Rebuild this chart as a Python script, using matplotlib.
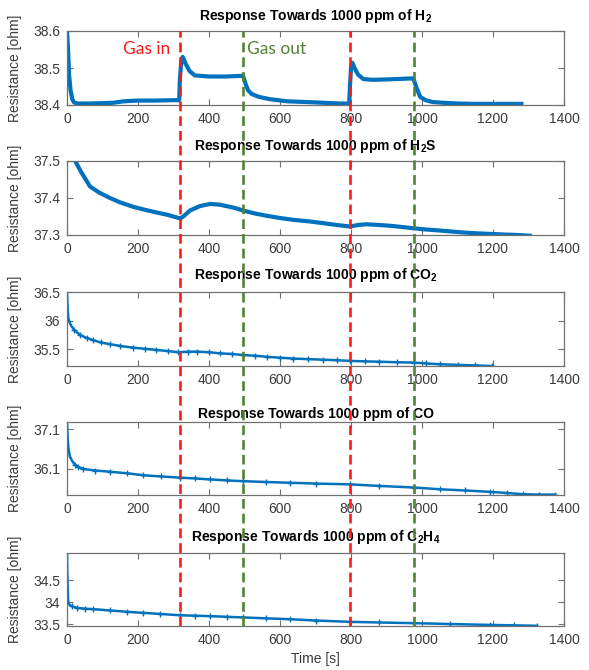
import numpy as np
import matplotlib
import matplotlib.pyplot as plt

matplotlib.rcParams['font.family'] = ['Liberation Sans', 'DejaVu Sans']
matplotlib.rcParams['mathtext.fontset'] = 'custom'
matplotlib.rcParams['mathtext.rm'] = 'Liberation Sans'
matplotlib.rcParams['mathtext.bf'] = 'Liberation Sans:bold'
matplotlib.rcParams['lines.scale_dashes'] = False

# ---- data ----
h2_t = [0, 3, 6, 10, 15, 20, 30, 60, 100, 130, 160, 200, 250, 300, 316, 318, 322,
        326, 335, 345, 360, 400, 450, 495, 497, 502, 510, 520, 540, 570, 620, 700,
        769, 795, 797, 800, 804, 810, 820, 835, 860, 900, 950, 975, 977, 985, 995,
        1010, 1030, 1060, 1100, 1150, 1200, 1280]
h2_r = [38.60, 38.55, 38.48, 38.44, 38.415, 38.407, 38.404, 38.404, 38.405, 38.406,
        38.41, 38.412, 38.412, 38.413, 38.413, 38.47, 38.52, 38.53, 38.51, 38.492,
        38.480, 38.477, 38.477, 38.479, 38.476, 38.46, 38.44, 38.43, 38.422, 38.416,
        38.41, 38.407, 38.404, 38.404, 38.45, 38.50, 38.514, 38.50, 38.482, 38.470,
        38.468, 38.469, 38.471, 38.472, 38.468, 38.445, 38.422, 38.413, 38.408,
        38.406, 38.404, 38.403, 38.403, 38.403]

h2s_t = [23, 40, 65, 90, 121, 150, 187, 220, 252, 285, 314, 320, 330, 346, 374, 403,
         430, 469, 497, 530, 562, 600, 637, 680, 722, 760, 797, 820, 844, 880, 910,
         950, 977, 1010, 1051, 1100, 1144, 1190, 1239, 1270, 1304]
h2s_r = [37.50, 37.47, 37.431, 37.415, 37.40, 37.388, 37.376, 37.368, 37.361, 37.354,
         37.346, 37.345, 37.352, 37.366, 37.378, 37.384, 37.382, 37.374, 37.366,
         37.358, 37.352, 37.346, 37.341, 37.337, 37.332, 37.327, 37.323, 37.327,
         37.329, 37.327, 37.325, 37.321, 37.318, 37.315, 37.312, 37.308, 37.305,
         37.303, 37.301, 37.300, 37.298]

co2_t = [0, 2, 4, 8, 13, 20, 37, 55, 74, 95, 121, 150, 187, 220, 252, 285, 314, 340,
         366, 400, 432, 465, 497, 530, 562, 600, 637, 680, 720, 760, 797, 840, 880,
         930, 977, 1010, 1051, 1100, 1150, 1196]
co2_r = [36.5, 36.2, 36.04, 35.96, 35.90, 35.84, 35.75, 35.70, 35.66, 35.62, 35.59,
         35.56, 35.53, 35.51, 35.49, 35.47, 35.45, 35.46, 35.46, 35.45, 35.43, 35.42,
         35.40, 35.39, 35.37, 35.355, 35.34, 35.33, 35.32, 35.31, 35.30, 35.29,
         35.285, 35.275, 35.27, 35.255, 35.24, 35.23, 35.22, 35.21]

co_t = [0, 2, 4, 8, 14, 22, 32, 46, 80, 121, 170, 215, 265, 318, 360, 403, 450, 497,
        560, 628, 700, 797, 880, 977, 1051, 1120, 1191, 1240, 1285, 1330, 1375]
co_r = [37.28, 36.85, 36.62, 36.41, 36.3, 36.2, 36.14, 36.09, 36.05, 36.02, 35.98,
        35.93, 35.9, 35.87, 35.85, 35.825, 35.80, 35.78, 35.76, 35.74, 35.72, 35.70,
        35.66, 35.62, 35.575, 35.545, 35.51, 35.48, 35.45, 35.44, 35.44]

c2h4_t = [0, 1, 3, 5, 8, 15, 27, 50, 74, 120, 168, 215, 262, 318, 360, 403, 450, 497,
          560, 628, 700, 797, 880, 977, 1080, 1191, 1260, 1323]
c2h4_r = [35.12, 34.6, 34.05, 33.97, 33.93, 33.9, 33.87, 33.85, 33.84, 33.81, 33.78,
          33.755, 33.73, 33.70, 33.69, 33.68, 33.665, 33.65, 33.63, 33.61, 33.58,
          33.55, 33.535, 33.52, 33.5, 33.48, 33.47, 33.46]

gas_in = [318, 797]
gas_out = [497, 977]

titles = [r'Response Towards 1000 ppm of $\mathbf{H_2}$',
          r'Response Towards 1000 ppm of $\mathbf{H_2S}$',
          r'Response Towards 1000 ppm of $\mathbf{CO_2}$',
          'Response Towards 1000 ppm of CO',
          r'Response Towards 1000 ppm of $\mathbf{C_2H_4}$']
series = [(h2_t, h2_r), (h2s_t, h2s_r), (co2_t, co2_r), (co_t, co_r), (c2h4_t, c2h4_r)]
ylims = [(38.4, 38.6), (37.3, 37.5), (35.21, 36.5), (35.43, 37.28), (33.455, 35.12)]
yticks = [[38.4, 38.5, 38.6], [37.3, 37.4, 37.5], [35.5, 36, 36.5], [36.1, 37.1],
          [33.5, 34, 34.5]]
ytick_labels = [['38.4', '38.5', '38.6'], ['37.3', '37.4', '37.5'],
                ['35.5', '36', '36.5'], ['36.1', '37.1'], ['33.5', '34', '34.5']]

W, H = 589, 670
left, right = 67, 564
panels_px = [(31, 105), (161, 235), (292, 366), (422, 495), (553, 626)]
title_pads = [8, 8, 9, 3, 9]

blue = '#0072BD'
txt_col = '#3a3a3a'
frame_col = '#707070'

fig = plt.figure(figsize=(W / 100, H / 100), dpi=100)
axes = []
for i, (top, bot) in enumerate(panels_px):
    ax = fig.add_axes([left / W, 1 - bot / H, (right - left) / W, (bot - top) / H])
    t, r = series[i]
    if i < 2:
        ax.plot(t, r, color=blue, lw=3.0, solid_joinstyle='round')
    else:
        ax.plot(t, r, color=blue, lw=1.8, marker='+', markersize=4,
                markeredgewidth=1.0, markevery=slice(5, None))
    ax.set_xlim(0, 1400)
    ax.set_ylim(*ylims[i])
    ax.set_xticks(np.arange(0, 1401, 200))
    ax.set_yticks(yticks[i])
    ax.set_yticklabels(ytick_labels[i])
    ax.tick_params(axis='both', which='major', direction='in', length=4,
                   top=True, right=True, labelsize=10, colors=frame_col,
                   labelcolor=txt_col, pad=5)
    for sp in ax.spines.values():
        sp.set_color(frame_col)
        sp.set_linewidth(0.9)
    ax.set_title(titles[i], fontsize=10, fontweight='bold', color='black',
                 pad=title_pads[i])
    ax.set_ylabel('Resistance [ohm]', fontsize=10, color=txt_col)
    ax.yaxis.set_label_coords(-0.09, 0.5)
    axes.append(ax)

axes[-1].set_xlabel('Time [s]', fontsize=10, color=txt_col, labelpad=4)

axes[0].text(158, 38.552, 'Gas in', color='#ff1a1a', fontsize=12.5,
             family=['Lato', 'DejaVu Sans'], va='center', ha='left')
axes[0].text(507, 38.552, 'Gas out', color='#548235', fontsize=12.5,
             family=['Lato', 'DejaVu Sans'], va='center', ha='left')

# dashed event markers spanning all panels
top_px, bot_px = panels_px[0][0], panels_px[-1][1]
ov = fig.add_axes([left / W, 1 - bot_px / H, (right - left) / W, (bot_px - top_px) / H])
ov.set_xlim(0, 1400)
ov.set_ylim(0, 1)
ov.axis('off')
ov.patch.set_alpha(0)
for x in gas_in:
    ov.axvline(x, color='#ff1a1a', lw=1.9, dashes=(7, 3.6))
for x in gas_out:
    ov.axvline(x, color='#548235', lw=1.9, dashes=(7, 3.6))

fig.savefig('out.png', dpi=100)
